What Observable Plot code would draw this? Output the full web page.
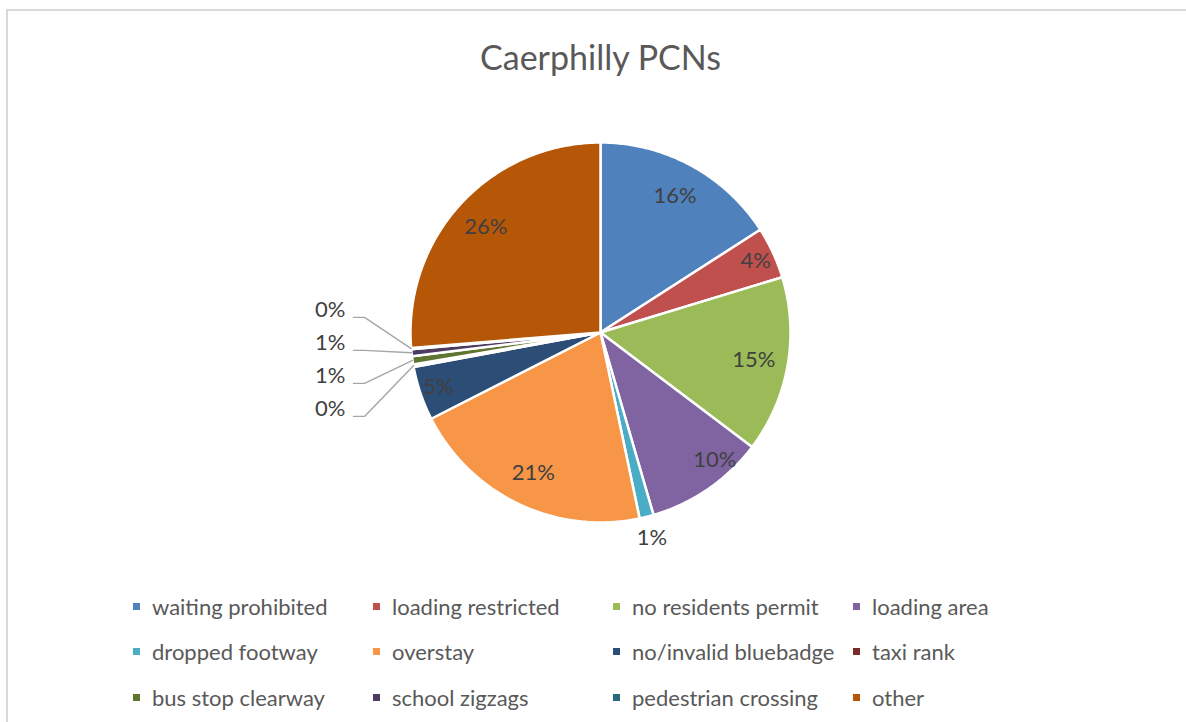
<!DOCTYPE html>
<html>
<head>
<meta charset="utf-8">
<script src="https://cdn.jsdelivr.net/npm/d3@7"></script>
<script src="https://cdn.jsdelivr.net/npm/@observablehq/plot@0.6"></script>
<style>
  html, body { margin: 0; padding: 0; background: #fff; }
  #wrap { position: relative; width: 1186px; height: 722px; overflow: hidden; font-family: Lato, "Noto Sans", sans-serif; }
  #frame { position: absolute; left: 6px; top: 9px; width: 1300px; height: 900px; border: 2px solid #d9d9d9; box-sizing: border-box; }
  #title { position: absolute; left: 0; width: 1201px; top: 36px; text-align: center; font-size: 34px; color: #595959; line-height: 42px; }
  #chart { position: absolute; left: 0; top: 0; }
  #legend { position: absolute; left: 133px; top: 594px; display: grid; grid-template-columns: 240px 240px 240px 240px; grid-auto-rows: 45.5px; font-size: 22px; color: #595959; }
  .item { display: flex; align-items: center; height: 24px; white-space: nowrap; }
  .sw { width: 7px; height: 7px; margin-right: 12px; flex: none; }
</style>
</head>
<body>
<div id="wrap">
  <div id="frame"></div>
  <div id="title">Caerphilly PCNs</div>
  <div id="chart"></div>
  <div id="legend"></div>
</div>
<script>
// ---- data ----
const categories = [
  "waiting prohibited", "loading restricted", "no residents permit", "loading area",
  "dropped footway", "overstay", "no/invalid bluebadge", "taxi rank",
  "bus stop clearway", "school zigzags", "pedestrian crossing", "other"
];
const values = [15.9, 4.4, 15.0, 10.2, 1.2, 20.8, 4.6, 0.2, 0.7, 0.6, 0.1, 26.3];

// ---- styles ----
const palette = ["#4F81BD", "#C0504D", "#9BBB59", "#8064A2", "#4BACC6", "#F79646",
                 "#2C4D75", "#772C2A", "#5F7530", "#4D3B62", "#276A7C", "#B65708"];

const total = d3.sum(values);
let acc = 0;
const slices = categories.map((name, i) => {
  const a0 = acc / total * 2 * Math.PI;
  acc += values[i];
  const a1 = acc / total * 2 * Math.PI;
  return {name, value: values[i], pct: values[i] / total * 100, a0, a1, mid: (a0 + a1) / 2};
});

// slice outlines (in unit-circle data space)
const outline = slices.flatMap(s => {
  const n = Math.max(2, Math.ceil((s.a1 - s.a0) / 0.01));
  const pts = [{name: s.name, x: 0, y: 0}];
  for (let k = 0; k <= n; k++) {
    const a = s.a0 + (s.a1 - s.a0) * k / n;
    pts.push({name: s.name, x: Math.sin(a), y: Math.cos(a)});
  }
  pts.push({name: s.name, x: 0, y: 0});
  return pts;
});

// labels
const PX = 1 / 190; // one pixel in data units
const labels = [];
const leaders = [];
const stack = [];
slices.forEach(s => {
  const text = Math.round(s.pct) + "%";
  if (s.pct >= 12) {
    labels.push({text, x: 0.82 * Math.sin(s.mid), y: 0.82 * Math.cos(s.mid), anchor: "middle"});
  } else if (s.pct >= 2) {
    // best-fit style: mid-size slices have their label nudged toward the start edge
    const a = s.pct > 8 ? s.mid - 0.2 * (s.a1 - s.a0) : s.mid;
    labels.push({text, x: 0.9 * Math.sin(a), y: 0.9 * Math.cos(a), anchor: "middle"});
  } else if (Math.sin(s.mid) > -0.8) {
    labels.push({text, x: 1.115 * Math.sin(s.mid), y: 1.115 * Math.cos(s.mid), anchor: "middle"});
  } else {
    stack.push({s, text});
  }
});
stack.sort((a, b) => b.s.mid - a.s.mid);
const meanY = d3.mean(stack, d => Math.cos(d.s.mid)) - 3 * PX;
const spacing = 33 * PX;
const textX = -1.342;
stack.forEach((d, k) => {
  const ly = meanY + ((stack.length - 1) / 2 - k) * spacing;
  labels.push({text: d.text, x: textX, y: ly, anchor: "end"});
  const lineY = ly - 7 * PX;
  const ax = Math.sin(d.s.mid), ay = Math.cos(d.s.mid);
  leaders.push({name: d.s.name, x: textX + 8 * PX, y: lineY});
  leaders.push({name: d.s.name, x: textX + 19 * PX, y: lineY});
  leaders.push({name: d.s.name, x: ax, y: ay});
});

const chart = Plot.plot({
  width: 1186,
  height: 722,
  style: {fontFamily: "Lato, 'Noto Sans', sans-serif", background: "transparent"},
  x: {domain: [-1, 1], range: [410, 790], axis: null},
  y: {domain: [-1, 1], range: [522, 142], axis: null},
  color: {domain: categories, range: palette},
  marks: [
    Plot.line(outline, {x: "x", y: "y", z: "name", fill: "name", stroke: "white", strokeWidth: 2.5, strokeLinejoin: "round"}),
    Plot.line(leaders, {x: "x", y: "y", z: "name", stroke: "#a6a6a6", strokeWidth: 1.4}),
    Plot.text(labels.filter(d => d.anchor === "middle"), {x: "x", y: "y", text: "text", fill: "#404040", fontSize: 22}),
    Plot.text(labels.filter(d => d.anchor === "end"), {x: "x", y: "y", text: "text", fill: "#404040", fontSize: 22, textAnchor: "end"})
  ]
});
document.getElementById("chart").appendChild(chart);

const legend = document.getElementById("legend");
categories.forEach((c, i) => {
  const item = document.createElement("div");
  item.className = "item";
  const sw = document.createElement("span");
  sw.className = "sw";
  sw.style.background = palette[i];
  const t = document.createElement("span");
  t.textContent = c;
  item.appendChild(sw);
  item.appendChild(t);
  legend.appendChild(item);
});
</script>
</body>
</html>
